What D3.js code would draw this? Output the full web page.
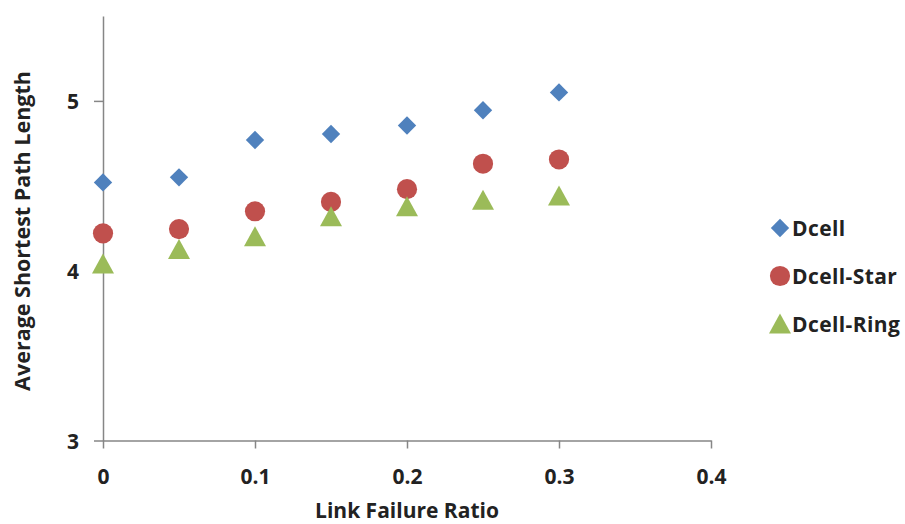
<!DOCTYPE html>
<html><head><meta charset="utf-8">
<script src="https://d3js.org/d3.v7.min.js"></script>
<style>body{margin:0;background:#fff}svg{display:block}text{font-family:"Open Sans","Noto Sans",sans-serif;font-weight:bold;fill:#222}</style>
</head><body>
<script>
const xValues = [0, 0.05, 0.1, 0.15, 0.2, 0.25, 0.3];
const dcell = [4.52, 4.55, 4.77, 4.805, 4.855, 4.945, 5.05];
const dcellStar = [4.22, 4.245, 4.35, 4.405, 4.48, 4.63, 4.655];
const dcellRing = [4.04, 4.125, 4.2, 4.317, 4.376, 4.415, 4.44];
const seriesNames = ["Dcell", "Dcell-Star", "Dcell-Ring"];
const xTicks = [0, 0.1, 0.2, 0.3, 0.4];
const yTicks = [3, 4, 5];

const W = 905, H = 524;
const svg = d3.select("body").append("svg").attr("width", W).attr("height", H);
const x = d3.scaleLinear().domain([0, 0.4]).range([103, 711]);
const y = d3.scaleLinear().domain([3, 5.5]).range([440.5, 16]);
const axisColor = "#868686";

const xAxis = svg.append("g").attr("transform", `translate(0,${y(3)})`)
  .call(d3.axisBottom(x).tickValues(xTicks).tickFormat(d => String(d)).tickSize(8).tickSizeOuter(0));
const yAxis = svg.append("g").attr("transform", `translate(${x(0)},0)`)
  .call(d3.axisLeft(y).tickValues(yTicks).tickFormat(d => String(d)).tickSize(9).tickSizeOuter(0));
[xAxis, yAxis].forEach(g => {
  g.select(".domain").attr("stroke", axisColor).attr("stroke-width", 1.5);
  g.selectAll(".tick line").attr("stroke", axisColor).attr("stroke-width", 1.5);
  g.selectAll("text").style("font-size", "21px").attr("fill", "#222");
});
xAxis.selectAll("text").attr("dy", "0").attr("y", 43);
yAxis.selectAll("text").attr("x", -24).attr("dy", "0.36em");

svg.append("text").attr("x", 407).attr("y", 518).attr("text-anchor", "middle")
  .style("font-size", "21px").text("Link Failure Ratio");
svg.append("text").attr("transform", `translate(30,231) rotate(-90)`).attr("text-anchor", "middle")
  .style("font-size", "21.5px").text("Average Shortest Path Length");

const colors = ["#4F81BD", "#C0504D", "#9BBB59"];
const diamond = d3.symbol().type(d3.symbolDiamond2).size(215);
const circle = d3.symbol().type(d3.symbolCircle).size(320);
function triPath(cx, cy) {
  return `M${cx},${cy - 10.5}L${cx + 11},${cy + 9.5}L${cx - 11},${cy + 9.5}Z`;
}
function drawMarker(g, si, cx, cy) {
  if (si === 0) g.append("path").attr("d", diamond()).attr("transform", `translate(${cx},${cy})`).attr("fill", colors[0]);
  else if (si === 1) g.append("path").attr("d", circle()).attr("transform", `translate(${cx},${cy})`).attr("fill", colors[1]);
  else g.append("path").attr("d", triPath(cx, cy)).attr("fill", colors[2]);
}
const data = [dcell, dcellStar, dcellRing];
data.forEach((vals, si) => {
  const g = svg.append("g");
  vals.forEach((v, i) => drawMarker(g, si, x(xValues[i]), y(v)));
});

const legY = [228, 276, 324];
seriesNames.forEach((name, i) => {
  const lx = 780, ly = legY[i];
  drawMarker(svg, i, lx, ly);
  svg.append("text").attr("x", 792).attr("y", ly).attr("dy", "0.36em")
    .style("font-size", "21px").style("letter-spacing", "0.4px").text(name);
});
</script>
</body></html>
